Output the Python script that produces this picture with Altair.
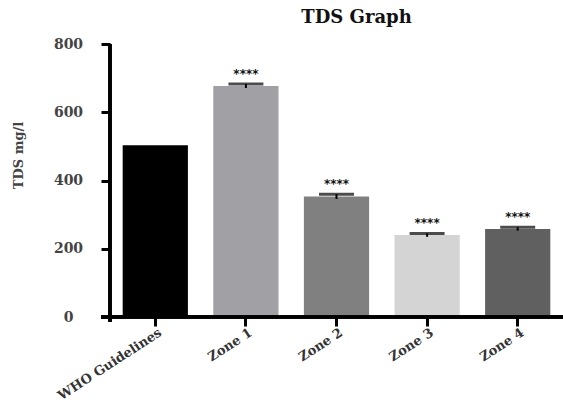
import altair as alt
import pandas as pd

categories = ["WHO Guidelines", "Zone 1", "Zone 2", "Zone 3", "Zone 4"]
means = [503, 677, 353, 240, 258]
errors = [0, 6, 7, 5, 5]
stars = ["", "****", "****", "****", "****"]
colors = ["#000000", "#a1a0a5", "#808080", "#d4d4d4", "#606060"]

df = pd.DataFrame({"cat": categories, "mean": means, "err": errors, "star": stars})
df["lo"] = df["mean"] - df["err"]
df["hi"] = df["mean"] + df["err"]
zones = df[df["err"] > 0]

FONT = "DejaVu Serif"

x = alt.X("cat:N", sort=categories, title=None,
          scale=alt.Scale(paddingInner=0.28, paddingOuter=0.14),
          axis=alt.Axis(labelAngle=-33, labelAlign="right", labelBaseline="middle",
                        labelPadding=5, labelOffset=5, labelFont=FONT, labelFontWeight="bold",
                        labelFontSize=13, labelColor="#333333", tickSize=9, tickWidth=3,
                        tickColor="#000000", domain=False))

y_scale = alt.Scale(domain=[0, 800])

bars = alt.Chart(df).mark_bar().encode(
    x=x,
    y=alt.Y("mean:Q", scale=y_scale, title="TDS mg/l",
            axis=alt.Axis(values=[0, 200, 400, 600, 800], grid=False, domain=False,
                          tickSize=9, tickWidth=3, tickColor="#000000",
                          labelFont=FONT, labelFontWeight="bold", labelFontSize=14,
                          labelColor="#444444", labelAlign="center", labelPadding=33,
                          titleFont=FONT, titleFontWeight="bold", titleFontSize=13,
                          titleColor="#444444", titleX=-88, titleY=111,
                          titleAlign="center", titleBaseline="alphabetic")),
    color=alt.Color("cat:N", sort=categories,
                    scale=alt.Scale(domain=categories, range=colors), legend=None),
)

err_rule = alt.Chart(zones).mark_rule(color="#000000", strokeWidth=2).encode(
    x=alt.X("cat:N", sort=categories), y=alt.Y("lo:Q", scale=y_scale), y2="hi:Q")

caps = alt.Chart(zones).mark_tick(color="#000000", thickness=3, size=35).encode(
    x=alt.X("cat:N", sort=categories), y=alt.Y("hi:Q", scale=y_scale))

star_text = alt.Chart(zones).mark_text(font="DejaVu Sans", fontWeight="bold", fontSize=12,
                                       color="#111111", baseline="alphabetic", dy=-6).encode(
    x=alt.X("cat:N", sort=categories), y=alt.Y("hi:Q", scale=y_scale), text="star:N")

x_axis_line = alt.Chart(df).mark_rule(color="#000000", strokeWidth=3).encode(
    x=alt.value(-9), x2=alt.value(453), y=alt.value(273))
y_axis_line = alt.Chart(df).mark_rule(color="#000000", strokeWidth=3).encode(
    x=alt.value(0), y=alt.value(0), y2=alt.value(278))

chart = alt.layer(bars, err_rule, caps, star_text, x_axis_line, y_axis_line).properties(
    width=453, height=273,
    title=alt.TitleParams("TDS Graph", font=FONT, fontWeight="bold", fontSize=18,
                          color="#111111", anchor="middle", dx=20, offset=10),
    autosize=alt.AutoSizeParams(type="none"),
    padding={"left": 110, "top": 44, "right": 0, "bottom": 96},
).configure_view(stroke=None)

chart.save("out.html", embed_options={"renderer": "svg", "actions": False})
